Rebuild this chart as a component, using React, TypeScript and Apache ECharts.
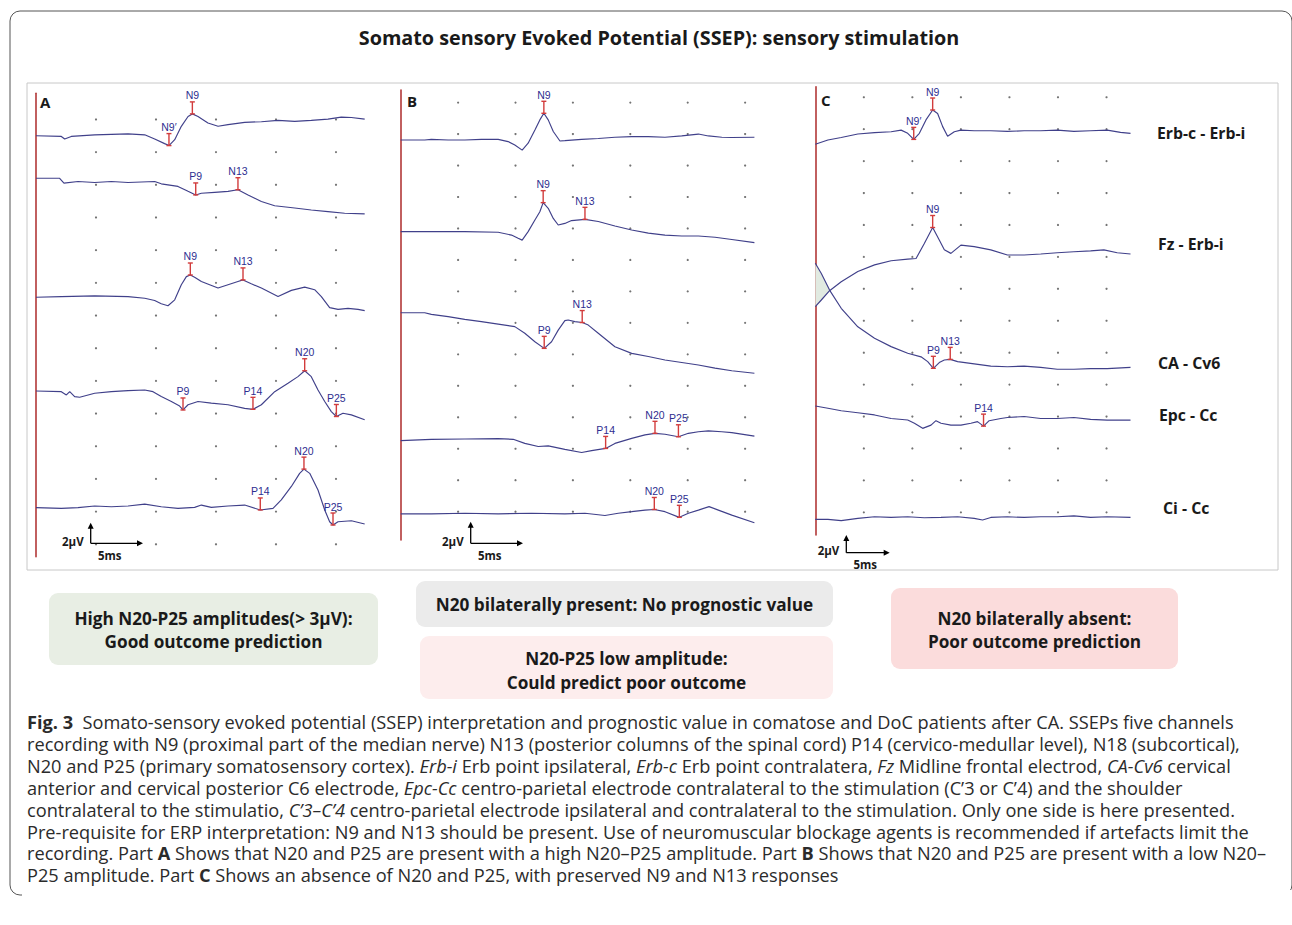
import React, { useEffect, useRef } from 'react';
import * as echarts from 'echarts';

// ---------------- DATA ----------------
// time in ms (0 = stimulus / red line), amplitude in grid divisions
const aTrace1 = [[0,12.5],[2.11,12.48],[2.39,12.4],[2.94,12.48],[4.89,12.53],[7.67,12.56],[9.06,12.53],[9.89,12.4],[10.72,12.26],[11.08,12.2],[11.56,12.38],[12.11,12.79],[12.67,13.09],[13.03,13.17],[13.5,13.09],[14.33,12.89],[15.17,12.79],[16,12.84],[17.39,12.91],[18.78,12.93],[20.17,12.97],[21.56,12.94],[22.94,12.97],[24.33,13.01],[25.44,13.07],[26.28,13.06],[27.39,13.01]];
const aTrace2 = [[0,11.2],[1.97,11.2],[2.33,11.05],[3.5,11.1],[4.89,11.07],[6.28,11.1],[7.67,11.07],[9.89,11.1],[10.44,11.03],[11.83,10.95],[12.67,10.8],[13.31,10.69],[13.78,10.74],[14.89,10.77],[16,10.8],[16.83,10.85],[17.67,10.69],[18.78,10.49],[19.89,10.36],[21.56,10.29],[22.94,10.23],[24.33,10.18],[25.72,10.13],[27.39,10.11]];
const aTrace3 = [[0,7.56],[2.11,7.58],[4.89,7.6],[7.67,7.58],[9.06,7.53],[9.89,7.46],[10.44,7.36],[11,7.3],[11.56,7.48],[12.11,7.94],[12.53,8.19],[12.86,8.24],[13.22,8.17],[13.78,8.04],[14.47,7.94],[15.17,7.84],[16,7.94],[16.83,8.04],[17.25,8.09],[17.94,7.97],[18.78,7.84],[20.17,7.58],[21.28,7.77],[22.39,7.87],[23.22,7.79],[23.78,7.58],[24.47,7.24],[25.17,7.19],[26,7.22],[26.83,7.19],[27.39,7.15]];
const aTrace4 = [[0,4.69],[2.11,4.67],[2.53,4.57],[2.81,4.67],[3.22,4.52],[3.64,4.5],[4.89,4.62],[6.28,4.67],[7.67,4.7],[9.06,4.72],[9.75,4.67],[10.44,4.52],[11.28,4.37],[11.97,4.23],[12.25,4.11],[12.67,4.27],[13.5,4.37],[14.61,4.32],[16,4.27],[17.39,4.16],[18.08,4.13],[18.78,4.27],[19.89,4.67],[21,4.93],[21.83,5.13],[22.39,5.31],[22.94,5.13],[23.5,4.72],[24.06,4.37],[24.61,4.06],[25.03,3.91],[25.58,4.01],[26.28,3.96],[27.39,3.81]];
const aTrace5 = [[0,1.12],[2.11,1.1],[3.5,1.12],[4.89,1.17],[6.28,1.15],[7.67,1.17],[9.06,1.23],[10.44,1.15],[11.83,1.1],[13.22,1.13],[13.78,1.2],[14.61,1.13],[16,1.17],[17.39,1.2],[18.69,1.05],[19.75,1.1],[20.44,1.36],[21.28,1.77],[21.97,2.17],[22.33,2.3],[22.81,2.17],[23.5,1.66],[24.06,1.05],[24.47,0.69],[24.75,0.59],[25.17,0.69],[26.28,0.72],[27.39,0.62]];

const bTrace1 = [[0,11.81],[2.09,11.81],[2.67,11.83],[4.13,11.81],[5.58,11.81],[7.03,11.83],[8.49,11.83],[9.36,11.76],[9.94,11.65],[10.58,11.49],[11.1,11.71],[11.69,12.13],[12.12,12.45],[12.47,12.66],[12.85,12.45],[13.29,12.08],[13.87,11.78],[14.3,11.79],[15.76,11.83],[17.21,11.86],[18.66,11.9],[20.12,11.92],[21.57,11.92],[23.02,11.9],[24.48,11.94],[25.93,12.0],[26.8,11.94],[27.97,11.9],[28.84,11.89],[30.81,11.9]];
const bTrace2 = [[0,8.9],[2.67,8.9],[5.58,8.9],[8.49,8.88],[9.65,8.79],[10.23,8.69],[10.58,8.63],[11.1,8.9],[11.69,9.27],[12.12,9.53],[12.41,9.82],[12.85,9.64],[13.29,9.32],[13.72,9.11],[14.3,9.16],[14.88,9.25],[16.05,9.29],[17.21,9.22],[18.66,9.08],[20.12,8.95],[21.57,8.85],[23.02,8.79],[24.48,8.76],[25.93,8.76],[27.38,8.72],[28.84,8.65],[30.81,8.55]];
const bTrace3 = [[0,6.32],[2.09,6.32],[2.67,6.27],[4.13,6.2],[5.58,6.11],[7.03,6.04],[8.49,5.96],[9.94,5.88],[10.81,5.67],[11.69,5.4],[12.5,5.19],[13.14,5.4],[13.72,5.77],[14.3,6.07],[14.59,6.09],[15.17,6.04],[15.81,6.01],[16.34,5.93],[17.21,5.67],[18.66,5.24],[20.12,5.03],[21.57,4.93],[23.02,4.82],[24.48,4.74],[25.93,4.66],[27.38,4.56],[28.84,4.48],[30.81,4.4]];
const bTrace4 = [[0,2.26],[2.67,2.3],[5.58,2.31],[8.49,2.32],[9.8,2.3],[10.81,2.17],[11.98,2.07],[12.85,2.09],[14.3,1.98],[15.76,1.88],[16.63,1.94],[17.85,2.01],[18.66,2.17],[20.12,2.33],[21.28,2.44],[22.15,2.49],[23.02,2.46],[24.19,2.38],[25.06,2.49],[25.93,2.54],[26.8,2.57],[27.97,2.54],[28.84,2.51],[30.81,2.4]];
const bTrace5 = [[0,-0.07],[2.67,-0.07],[5.58,-0.05],[8.49,-0.07],[11.4,-0.05],[14.3,-0.07],[16.05,-0.05],[17.79,-0.12],[18.95,-0.05],[20.12,0],[21.28,0.05],[22.09,0.07],[23.02,0],[24.27,-0.18],[25.06,-0.05],[25.93,0.05],[26.86,0.16],[27.67,0.05],[28.84,-0.11],[30.81,-0.35]];

const cTrace1 = [[0,11.53],[1.3,11.66],[2.67,11.74],[4.38,11.85],[6.1,11.89],[7.81,11.92],[8.84,11.97],[9.52,11.87],[10.14,11.68],[10.72,11.87],[11.4,12.29],[12.09,12.6],[12.6,12.49],[13.12,12.08],[13.63,11.78],[14.32,11.92],[15,11.97],[16.37,11.95],[18.08,11.95],[19.79,11.93],[21.51,11.95],[23.22,11.95],[24.93,11.97],[26.64,11.93],[28.36,11.95],[30.07,11.97],[31.44,11.9],[32.47,11.87]];
const cTrace2 = [[0,6.44],[0.62,6.65],[1.47,6.94],[2.67,7.22],[4.38,7.54],[6.1,7.75],[7.81,7.88],[9.52,7.93],[10.38,7.95],[11.23,8.42],[12.09,8.92],[12.77,8.53],[13.29,8.22],[13.97,8.11],[15,8.37],[16.37,8.32],[18.08,8.22],[19.79,8.06],[21.51,8.06],[23.22,8.09],[24.93,8.13],[26.64,8.16],[28.36,8.19],[29.73,8.22],[31.1,8.13],[32.47,8.09]];
const cTrace3 = [[0,7.8],[0.62,7.48],[1.47,6.96],[2.67,6.39],[4.38,5.81],[6.1,5.45],[7.81,5.19],[9.52,4.98],[10.89,4.87],[11.58,4.72],[12.16,4.51],[12.77,4.69],[13.29,4.77],[13.9,4.79],[14.66,4.72],[16.37,4.65],[18.08,4.58],[19.79,4.56],[21.51,4.58],[23.22,4.54],[24.93,4.48],[26.64,4.48],[28.36,4.5],[30.07,4.5],[32.47,4.54]];
const cTrace4 = [[0,3.33],[1.3,3.26],[2.67,3.18],[4.38,3.12],[6.1,3.05],[7.81,2.94],[9.52,2.89],[10.21,2.79],[11.06,2.63],[11.92,2.73],[12.43,2.87],[12.95,2.79],[13.97,2.73],[15,2.73],[16.03,2.79],[16.71,2.84],[17.33,2.7],[17.91,2.87],[19.11,2.94],[19.79,2.97],[21.51,3.0],[23.22,2.94],[24.93,2.94],[26.64,2.97],[28.36,2.91],[30.07,2.89],[32.47,2.89]];
const cTrace5 = [[0,-0.22],[1.3,-0.22],[2.67,-0.26],[4.38,-0.19],[6.1,-0.14],[7.81,-0.16],[9.52,-0.14],[11.23,-0.17],[12.95,-0.16],[14.66,-0.14],[16.37,-0.19],[17.23,-0.24],[18.08,-0.16],[19.79,-0.14],[21.51,-0.16],[23.22,-0.14],[24.93,-0.14],[26.64,-0.11],[28.36,-0.16],[30.07,-0.14],[32.47,-0.16]];
const cShade = [[0,7.8],[0,6.44],[1.47,6.95]];

// peak markers: [label, ms, amplitude]
const aMarkers = [['N9′',11.08,12.2],['N9',13.03,13.17],['P9',13.31,10.69],['N13',16.83,10.85],['N9',12.86,8.24],['N13',17.25,8.09],['P9',12.25,4.11],['P14',18.08,4.13],['N20',22.39,5.31],['P25',25.03,3.91],['P14',18.69,1.05],['N20',22.33,2.3],['P25',24.75,0.59]];
const bMarkers = [['N9',12.47,12.66],['N9',12.41,9.82],['N13',16.05,9.29],['P9',12.5,5.19],['N13',15.81,6.01],['P14',17.85,2.01],['N20',22.15,2.49],['P25',24.19,2.38],['N20',22.09,0.07],['P25',24.27,-0.18]];
const cMarkers = [['N9′',10.14,11.68],['N9',12.09,12.6],['N9',12.09,8.92],['P9',12.16,4.51],['N13',13.9,4.79],['P14',17.33,2.7]];

// grid dot ticks (ms / divisions)
const aDotX = [5, 10, 15, 20, 25];
const bDotX = [5, 10, 15, 20, 25, 30];
const cDotX = [5, 10, 15, 20, 25, 30];
const dotY = [0, 1, 2, 3, 4, 5, 6, 7, 8, 9, 10, 11, 12, 13];

const channelLabels = ['Erb-c - Erb-i', 'Fz - Erb-i', 'CA - Cv6', 'Epc - Cc', 'Ci - Cc'];
const titleText = 'Somato sensory Evoked Potential (SSEP): sensory stimulation';
const captionLines = [
  '{b|Fig. 3}  Somato-sensory evoked potential (SSEP) interpretation and prognostic value in comatose and DoC patients after CA. SSEPs five channels',
  'recording with N9 (proximal part of the median nerve) N13 (posterior columns of the spinal cord) P14 (cervico-medullar level), N18 (subcortical),',
  'N20 and P25 (primary somatosensory cortex). {i|Erb-i} Erb point ipsilateral, {i|Erb-c} Erb point contralatera, {i|Fz} Midline frontal electrod, {i|CA-Cv6} cervical',
  'anterior and cervical posterior C6 electrode, {i|Epc-Cc} centro-parietal electrode contralateral to the stimulation (C’3 or C’4) and the shoulder',
  'contralateral to the stimulatio, {i|C’3–C’4} centro-parietal electrode ipsilateral and contralateral to the stimulation. Only one side is here presented.',
  'Pre-requisite for ERP interpretation: N9 and N13 should be present. Use of neuromuscular blockage agents is recommended if artefacts limit the',
  'recording. Part {b|A} Shows that N20 and P25 are present with a high N20–P25 amplitude. Part {b|B} Shows that N20 and P25 are present with a low N20–',
  'P25 amplitude. Part {b|C} Shows an absence of N20 and P25, with preserved N9 and N13 responses',
];

// ---------------- STYLE / LAYOUT ----------------
const FONT = '"Open Sans", "Noto Sans", sans-serif';
const TRACE = '#40408a';
const RED = '#b23838';
const MARK_RED = '#d23c3c';
const MARK_BLUE = '#2e2e90';
const CAP_SIZE = 18.2;
const BOX_SIZE = 17.2;

const grids = [
  { left: 36, top: 93.3, width: 330, height: 463.4 },
  { left: 400.7, top: 90, width: 353.6, height: 450 },
  { left: 815.3, top: 86.7, width: 315.5, height: 448.3 },
];
const xMax = [27.5, 30.8, 32.5];
const yRange = [[-0.38, 13.8], [-0.9, 13.4], [-0.71, 13.33]];

function lineSeries(i: number, data: number[][]) {
  return {
    type: 'line', xAxisIndex: i, yAxisIndex: i, data, symbol: 'none', showSymbol: false,
    lineStyle: { color: TRACE, width: 1.15 }, silent: true, z: 3, clip: false,
  };
}
function dotSeries(i: number, xs: number[]) {
  const data: number[][] = [];
  xs.forEach((x) => dotY.forEach((y) => data.push([x, y])));
  return {
    type: 'scatter', xAxisIndex: i, yAxisIndex: i, data, symbolSize: 2.2,
    itemStyle: { color: '#505050' }, silent: true, z: 1,
  };
}
function markerSeries(i: number, marks: any[]) {
  return {
    type: 'custom', xAxisIndex: i, yAxisIndex: i, z: 4, silent: true, clip: false,
    data: marks.map((m) => [m[1], m[2]]),
    renderItem: (params: any, api: any) => {
      const p = api.coord([api.value(0), api.value(1)]);
      const m = marks[params.dataIndex];
      const top = p[1] - 12;
      const ls = { stroke: MARK_RED, lineWidth: 1.4 };
      return {
        type: 'group',
        children: [
          { type: 'line', shape: { x1: p[0], y1: p[1], x2: p[0], y2: top }, style: ls },
          { type: 'line', shape: { x1: p[0] - 2.5, y1: top, x2: p[0] + 2.5, y2: top }, style: ls },
          { type: 'line', shape: { x1: p[0] - 2.5, y1: p[1], x2: p[0] + 2.5, y2: p[1] }, style: ls },
          {
            type: 'text', x: p[0], y: top - 1,
            style: {
              text: m[0], fill: MARK_BLUE, fontSize: 10.5, fontFamily: '"Liberation Sans", Arial, sans-serif',
              align: 'center', verticalAlign: 'bottom', textAlign: 'center', textVerticalAlign: 'bottom',
            },
          },
        ],
      };
    },
  };
}
function shadeSeries() {
  return {
    type: 'custom', xAxisIndex: 2, yAxisIndex: 2, z: 2, silent: true, clip: false,
    data: [[0, 0]],
    renderItem: (_p: any, api: any) => ({
      type: 'polygon',
      shape: { points: cShade.map((d) => api.coord(d)) },
      style: { fill: '#e1eae1' },
    }),
  };
}

function txt(text: string, x: number, y: number, size: number, opts: any = {}) {
  const align = opts.align || 'left';
  return {
    type: 'text', x, y, z: 10,
    style: {
      text, fill: opts.fill || '#1a1a1a', fontSize: size, fontWeight: opts.weight || 'normal',
      fontFamily: opts.family || FONT, align, textAlign: align,
      verticalAlign: 'middle', textVerticalAlign: 'middle', ...(opts.rich ? { rich: opts.rich } : {}),
    },
  };
}
function scaleBar(ox: number, oy: number, upY: number, rightX: number) {
  const s = { stroke: '#000', lineWidth: 1.3 };
  return [
    { type: 'line', z: 10, shape: { x1: ox, y1: oy, x2: ox, y2: upY + 5 }, style: s },
    { type: 'polygon', z: 10, shape: { points: [[ox - 3, upY + 6], [ox + 3, upY + 6], [ox, upY]] }, style: { fill: '#000' } },
    { type: 'line', z: 10, shape: { x1: ox, y1: oy, x2: rightX - 5, y2: oy }, style: s },
    { type: 'polygon', z: 10, shape: { points: [[rightX - 6, oy - 3], [rightX - 6, oy + 3], [rightX, oy]] }, style: { fill: '#000' } },
    txt('2µV', ox - 7, oy - 2, 11.5, { weight: 'bold', align: 'right' }),
    txt('5ms', ox + 19, oy + 12, 11.5, { weight: 'bold', align: 'center' }),
  ];
}
function box(x: number, y: number, w: number, h: number, fill: string, lines: string[], ys: number[]) {
  const els: any[] = [{ type: 'rect', z: 5, shape: { x, y, width: w, height: h, r: 9 }, style: { fill } }];
  lines.forEach((l, k) => els.push(txt(l, x + w / 2, ys[k], BOX_SIZE, { weight: 'bold', align: 'center' })));
  return els;
}

const capRich = {
  b: { fontWeight: 'bold', fontSize: CAP_SIZE, fontFamily: FONT, fill: '#2b2b2b' },
  i: { fontStyle: 'italic', fontSize: CAP_SIZE, fontFamily: FONT, fill: '#2b2b2b' },
};

const graphicEls: any[] = [
  { type: 'rect', z: 0, shape: { x: 10, y: 11, width: 1282, height: 884, r: 10 }, style: { fill: 'none', stroke: '#555', lineWidth: 1 } },
  { type: 'rect', z: 1, shape: { x: 22, y: 890, width: 1280, height: 20 }, style: { fill: '#fff' } },
  txt(titleText, 659, 37, 19.8, { weight: 'bold', align: 'center' }),
  { type: 'rect', z: 1, shape: { x: 27, y: 83, width: 1251, height: 487 }, style: { fill: 'none', stroke: '#c8c8c8', lineWidth: 1 } },
  txt('A', 40, 102, 15, { weight: 'bold' }),
  txt('B', 407, 101, 15, { weight: 'bold' }),
  txt('C', 821, 100, 15, { weight: 'bold' }),
  txt(channelLabels[0], 1157, 133, 15.8, { weight: 'bold' }),
  txt(channelLabels[1], 1158, 244, 15.8, { weight: 'bold' }),
  txt(channelLabels[2], 1158, 363, 15.8, { weight: 'bold' }),
  txt(channelLabels[3], 1159, 415, 15.8, { weight: 'bold' }),
  txt(channelLabels[4], 1163, 508, 15.8, { weight: 'bold' }),
  ...scaleBar(90.7, 543.3, 522.7, 143),
  ...scaleBar(470.7, 543.3, 521.7, 523),
  ...scaleBar(846.3, 552.7, 535, 889.7),
  ...box(49, 593, 329, 72, '#e8eee4', ['High N20-P25 amplitudes(> 3µV):', 'Good outcome prediction'], [618, 641]),
  ...box(416, 581, 417, 46, '#ebebeb', ['N20 bilaterally present: No prognostic value'], [604]),
  ...box(420, 636, 413, 63, '#fdeded', ['N20-P25 low amplitude:', 'Could predict poor outcome'], [658, 682]),
  ...box(891, 588, 287, 81, '#fbdcdc', ['N20 bilaterally absent:', 'Poor outcome prediction'], [618, 641]),
  ...captionLines.map((l, k) => txt(l, 27, 722 + k * 21.9, CAP_SIZE, { fill: '#2b2b2b', rich: capRich })),
];

const option: any = {
  animation: false,
  backgroundColor: '#ffffff',
  grid: grids.map((g) => ({ ...g, containLabel: false })),
  xAxis: grids.map((_, i) => ({ type: 'value', gridIndex: i, min: 0, max: xMax[i], show: false })),
  yAxis: grids.map((_, i) => ({
    type: 'value', gridIndex: i, min: yRange[i][0], max: yRange[i][1],
    axisLine: { show: true, onZero: false, lineStyle: { color: RED, width: 1.6 } },
    axisTick: { show: false }, axisLabel: { show: false }, splitLine: { show: false },
  })),
  series: [
    dotSeries(0, aDotX), dotSeries(1, bDotX), dotSeries(2, cDotX),
    shadeSeries(),
    ...[aTrace1, aTrace2, aTrace3, aTrace4, aTrace5].map((t) => lineSeries(0, t)),
    ...[bTrace1, bTrace2, bTrace3, bTrace4, bTrace5].map((t) => lineSeries(1, t)),
    ...[cTrace1, cTrace2, cTrace3, cTrace4, cTrace5].map((t) => lineSeries(2, t)),
    markerSeries(0, aMarkers), markerSeries(1, bMarkers), markerSeries(2, cMarkers),
  ],
  graphic: { elements: graphicEls },
};

export default function App() {
  const ref = useRef<HTMLDivElement>(null);
  useEffect(() => {
    const chart = echarts.init(ref.current as HTMLDivElement, null, { renderer: 'svg' });
    chart.setOption(option);
    return () => chart.dispose();
  }, []);
  return (
    <div
      ref={ref}
      style={{ position: 'fixed', left: 0, top: 0, width: 1292, height: 925, background: '#fff' }}
    />
  );
}
